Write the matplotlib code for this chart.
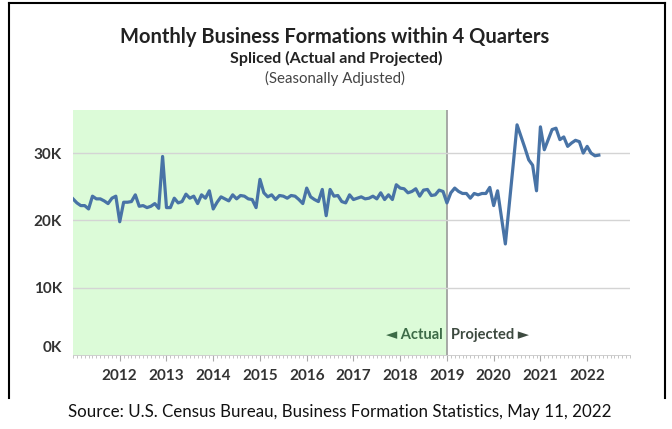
import numpy as np
import matplotlib
matplotlib.use("Agg")
import matplotlib.pyplot as plt
from matplotlib.lines import Line2D

# monthly business formations within 4 quarters, thousands (Jan 2011 - Apr 2022)
bf_2011 = [23.2, 22.6, 22.2, 22.2, 21.7, 23.6, 23.2, 23.2, 22.9, 22.5, 23.3, 23.6]
bf_2012 = [19.8, 22.7, 22.7, 22.8, 23.8, 22.1, 22.2, 21.9, 22.1, 22.5, 21.8, 29.5]
bf_2013 = [21.9, 21.9, 23.3, 22.6, 22.8, 23.9, 23.3, 23.6, 22.5, 23.8, 23.3, 24.4]
bf_2014 = [21.7, 22.7, 23.5, 23.2, 22.9, 23.8, 23.2, 23.7, 23.6, 23.2, 23.1, 21.9]
bf_2015 = [26.1, 24.1, 23.5, 23.8, 23.1, 23.7, 23.6, 23.3, 23.7, 23.6, 23.1, 22.5]
bf_2016 = [24.8, 23.5, 23.1, 22.8, 24.6, 20.7, 24.6, 23.6, 23.7, 22.8, 22.6, 23.8]
bf_2017 = [23.1, 23.3, 23.5, 23.2, 23.3, 23.6, 23.2, 24.1, 23.1, 23.8, 23.1, 25.3]
bf_2018 = [24.8, 24.7, 24.1, 24.3, 24.7, 23.6, 24.5, 24.6, 23.7, 23.8, 24.5, 24.3]
bf_2019 = [22.6, 24.1, 24.8, 24.3, 24.0, 24.0, 23.3, 24.0, 23.8, 24.0, 24.0, 24.9]
bf_2020 = [22.2, 24.4, 20.5, 16.5, 22.3, 28.2, 34.2, 32.5, 30.8, 29.0, 28.2, 24.4]
bf_2021 = [33.9, 30.5, 32.0, 33.5, 33.7, 32.0, 32.4, 31.0, 31.5, 31.9, 31.7, 30.0]
bf_2022 = [31.0, 30.0, 29.6, 29.7]

start_year = 2011
split_year = 2019
year_labels = list(range(2012, 2023))
y_ticks = [0, 10, 20, 30]
y_labels = ["0K", "10K", "20K", "30K"]

values = np.array(bf_2011 + bf_2012 + bf_2013 + bf_2014 + bf_2015 + bf_2016
                  + bf_2017 + bf_2018 + bf_2019 + bf_2020 + bf_2021 + bf_2022)
dates = start_year + np.arange(len(values)) / 12.0

plt.rcParams['font.family'] = ["Lato", "DejaVu Sans"]

fig = plt.figure(figsize=(6.72, 4.29), dpi=100)
ax = fig.add_axes([73 / 672, 1 - 355 / 429, 557 / 672, 245 / 429])

ax.set_xlim(start_year, start_year + 557 / 47)
ax.set_ylim(0, 245 / 6.73)

ax.axvspan(start_year, split_year, color="#dcfbd8", zorder=0, lw=0)
ax.axvline(split_year, color="#9a9a9a", lw=1.2, zorder=1)
for v in y_ticks[1:]:
    ax.axhline(v, color="#d4d4d4", lw=1.0, zorder=1)

ax.plot(dates, values, color="#4873a6", lw=2.3, zorder=3,
        solid_joinstyle="round")

for s in ["top", "right", "left"]:
    ax.spines[s].set_visible(False)
ax.spines["bottom"].set_color("#c8c8c8")
ax.spines["bottom"].set_linewidth(0.6)

ax.set_xticks(year_labels)
ax.set_xticklabels([str(y) for y in year_labels], fontsize=11, fontweight="bold",
                   color="#333333")
ax.set_xticks(start_year + np.arange(0, 12 * 12) / 12.0, minor=True)
ax.tick_params(axis="x", which="major", length=4, color="#aaaaaa", pad=6)
ax.tick_params(axis="x", which="minor", length=2, color="#bbbbbb", width=0.6)

ax.set_yticks(y_ticks)
ax.set_yticklabels(y_labels, fontsize=11, fontweight="bold", color="#333333")
ax.tick_params(axis="y", length=0, pad=8)
ax.get_yticklabels()[0].set_va("bottom")

ax.text(split_year - 0.08, 3.0, "\u25c4 Actual", ha="right", va="center",
        fontsize=10.5, fontweight="bold", color="#3d6b47")
ax.text(split_year + 0.08, 3.0, "Projected \u25ba", ha="left", va="center",
        fontsize=10.5, fontweight="bold", color="#3d4a40")

fig.text(335 / 672, 1 - 37 / 429, "Monthly Business Formations within 4 Quarters",
         ha="center", va="center", fontsize=14.5, fontweight="bold", color="#222222")
fig.text(336 / 672, 1 - 58 / 429, "Spliced (Actual and Projected)",
         ha="center", va="center", fontsize=11.5, fontweight="bold", color="#222222")
fig.text(335 / 672, 1 - 78 / 429, "(Seasonally Adjusted)",
         ha="center", va="center", fontsize=10.8, color="#444444")
fig.text(340 / 672, 1 - 412 / 429,
         "Source: U.S. Census Bureau, Business Formation Statistics, May 11, 2022",
         ha="center", va="center", fontsize=12.2, color="#111111")

# frame around the chart
bx0, bx1 = 9 / 672, 665 / 672
by_top, by_bot = 1 - 3 / 429, 1 - 398 / 429
for xs, ys in [([bx0, bx1], [by_top, by_top]), ([bx0, bx0], [by_top, by_bot]),
               ([bx1, bx1], [by_top, by_bot])]:
    fig.add_artist(Line2D(xs, ys, color="black", lw=1.5))

fig.savefig("out.png", dpi=100)
